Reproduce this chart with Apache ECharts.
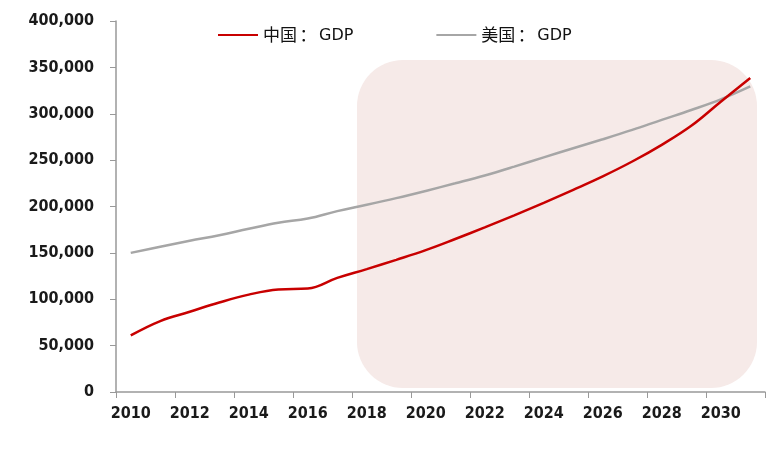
<!DOCTYPE html>
<html>
<head>
<meta charset="utf-8">
<script src="https://cdn.jsdelivr.net/npm/echarts@6/dist/echarts.min.js"></script>
<style>html,body{margin:0;padding:0;background:#fff;}#c{width:773px;height:449px;}</style>
</head>
<body>
<div id="c"></div>
<script>
const years = ['2010','2011','2012','2013','2014','2015','2016','2017','2018','2019','2020','2021','2022','2023','2024','2025','2026','2027','2028','2029','2030','2031'];
const chinaGDP = [61000, 76500, 86500, 96500, 105000, 110500, 111500, 123000, 132500, 142500, 153000, 165000, 177500, 190500, 204000, 218000, 232500, 248500, 266500, 287000, 313000, 338500];
const usGDP = [150000, 156500, 163000, 169000, 176000, 182500, 187000, 195000, 201800, 209000, 216800, 225000, 233500, 243000, 253000, 262800, 272500, 282600, 293400, 304000, 315500, 329400];
const seriesNames = ['中国：GDP', '美国：GDP'];

const chart = echarts.init(document.getElementById('c'), null, {renderer: 'canvas'});
const labelFont = {fontFamily: "'DejaVu Sans Condensed','DejaVu Sans',sans-serif", fontWeight: 'bold', fontSize: 16, color: '#1a1a1a'};
chart.setOption({
  animation: false,
  backgroundColor: '#ffffff',
  graphic: [{
    type: 'rect', z: 0, silent: true,
    shape: {x: 357, y: 60, width: 400, height: 328, r: 46},
    style: {fill: '#F6EAE8'}
  }],
  legend: {
    data: seriesNames,
    left: 213, top: 19,
    icon: 'rect', itemWidth: 40, itemHeight: 2, itemGap: 83,
    formatter: name => {
      const i = name.indexOf('：');
      return '{c|' + name.slice(0, i) + '}{p|：}{g|' + name.slice(i + 1) + '}';
    },
    textStyle: {
      color: '#111', fontSize: 17, lineHeight: 22,
      rich: {
        c: {fontFamily: "'Noto Sans CJK SC', sans-serif", fontSize: 17, lineHeight: 22, color: '#111'},
        p: {fontFamily: "'Noto Sans CJK SC', sans-serif", fontSize: 17, lineHeight: 22, color: '#111', width: 22, align: 'center'},
        g: {fontFamily: "'DejaVu Sans', sans-serif", fontSize: 16, lineHeight: 22, color: '#111', padding: [2, 0, 0, 0]}
      }
    }
  },
  grid: {left: 116, right: 8, top: 21, bottom: 57, containLabel: false},
  xAxis: {
    type: 'category', data: years, boundaryGap: true,
    axisLine: {lineStyle: {color: '#999', width: 1.5}},
    axisTick: {show: true, interval: 1, alignWithLabel: false, length: 6, lineStyle: {color: '#999'}},
    axisLabel: Object.assign({interval: 1, margin: 14}, labelFont),
    splitLine: {show: false}
  },
  yAxis: {
    type: 'value', min: 0, max: 400000, interval: 50000,
    axisLine: {show: true, lineStyle: {color: '#999', width: 1.5}},
    axisTick: {show: true, length: 6, lineStyle: {color: '#999'}},
    axisLabel: Object.assign({margin: 22, formatter: v => v.toLocaleString('en-US')}, labelFont),
    splitLine: {show: false}
  },
  series: [
    {name: seriesNames[0], type: 'line', data: chinaGDP, smooth: 0.4, symbol: 'none', z: 3,
     lineStyle: {color: '#C80000', width: 2.5}, itemStyle: {color: '#C80000'}},
    {name: seriesNames[1], type: 'line', data: usGDP, smooth: 0.4, symbol: 'none', z: 2,
     lineStyle: {color: '#A6A6A6', width: 2.5}, itemStyle: {color: '#A6A6A6'}}
  ]
});
</script>
</body>
</html>
